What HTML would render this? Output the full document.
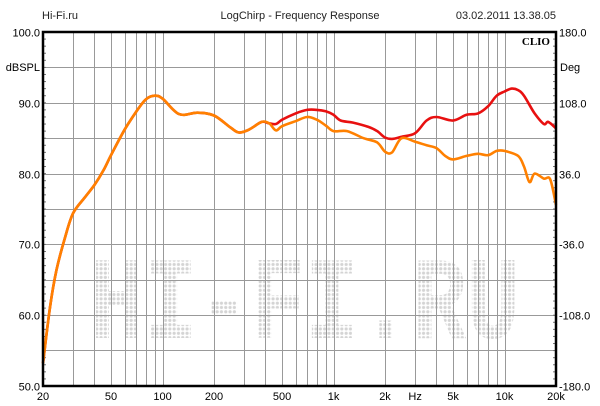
<!DOCTYPE html>
<html><head><meta charset="utf-8">
<style>
html,body{margin:0;padding:0;background:#fff;}
svg{display:block;font-family:"Liberation Sans",Arial,sans-serif;}
</style></head>
<body>
<svg id="chart" width="600" height="406" viewBox="0 0 600 406">
<defs>
<pattern id="dots" width="4.3" height="4.3" patternUnits="userSpaceOnUse">
<circle cx="2.15" cy="2.15" r="1.6" fill="#d4d4d4"/>
</pattern>
</defs>
<text x="42" y="19" font-size="11" fill="#222">Hi-Fi.ru</text>
<text x="300" y="19" font-size="11" fill="#222" text-anchor="middle">LogChirp - Frequency Response</text>
<text x="556" y="19" font-size="11" fill="#222" text-anchor="end">03.02.2011 13.38.05</text>
<text x="305" y="338" font-size="118" font-weight="bold" font-family="Liberation Mono,monospace" fill="url(#dots)" text-anchor="middle" textLength="430" lengthAdjust="spacingAndGlyphs">HI-FI.RU</text>
<g id="grid">
<line x1="43" x2="556" y1="67.5" y2="67.5" stroke="#999" stroke-width="1"/>
<line x1="43" x2="556" y1="138.5" y2="138.5" stroke="#999" stroke-width="1"/>
<line x1="43" x2="556" y1="209.5" y2="209.5" stroke="#999" stroke-width="1"/>
<line x1="43" x2="556" y1="280.5" y2="280.5" stroke="#999" stroke-width="1"/>
<line x1="43" x2="556" y1="350.5" y2="350.5" stroke="#999" stroke-width="1"/>
</g>
<g id="axes"></g>
<g id="series"></g>
<rect x="43" y="32" width="513" height="354" fill="none" stroke="#000" stroke-width="2.5"/>
<text x="550" y="45" font-size="11" font-weight="bold" font-family="Liberation Serif,serif" text-anchor="end">CLIO</text>
<text x="40" y="71" font-size="11" text-anchor="end">dBSPL</text>
<text x="560" y="71" font-size="11">Deg</text>
</svg>
<script>
const yTicks=[100,90,80,70,60,50];
const yTickLabels=["100.0","90.0","80.0","70.0","60.0","50.0"];
const y2TickLabels=["180.0","108.0","36.0","-36.0","-108.0","-180.0"];
const xTicks=[20,50,100,200,500,1000,2000,3000,5000,10000,20000];
const xTickLabels=["20","50","100","200","500","1k","2k","Hz","5k","10k","20k"];
const freqsShared=[20,22,24,27,30,35,40,45,50,60,70,80,90,100,125,160,200,250,280,320,380,420];
const dbShared=[53.2,61.2,66.4,71.1,74.4,76.6,78.4,80.4,82.6,86.2,88.7,90.5,91,90.6,88.4,88.6,88.2,86.5,85.8,86.2,87.3,87.1];
const freqsRed=[460,500,600,700,800,900,1000,1100,1300,1600,1800,2000,2200,2500,3000,3500,4000,5000,6000,7000,8000,9000,10000,11000,12000,13000,15000,17000,18000,20000];
const dbRed=[87,87.6,88.5,89,89,88.8,88.3,87.5,87.2,86.6,86,85.1,84.9,85.2,85.7,87.5,88,87.5,88.3,88.5,89.5,91,91.6,92,91.8,91,88.5,87,87.3,86.4];
const freqsOrange=[460,500,600,700,800,900,1000,1200,1500,1800,2000,2200,2500,3000,3500,4000,4500,5000,6000,7000,8000,9000,10000,12000,13000,14000,15000,17000,18500,20000];
const dbOrange=[86.1,86.7,87.4,88,87.6,86.8,86,86,85,84.4,83.1,83,85,84.5,84,83.6,82.5,82,82.5,82.8,82.6,83.2,83.2,82.5,81,78.8,80,79.3,79.2,75.6];

const L=43,R=556,T=32,B=386;
const xs=f=>L+(Math.log10(f/20)/3)*(R-L);
const ys=d=>T+(100-d)/50*(B-T);
const NS="http://www.w3.org/2000/svg";
function mk(tag,attrs,parent){const e=document.createElementNS(NS,tag);for(const k in attrs)e.setAttribute(k,attrs[k]);parent.appendChild(e);return e;}
const grid=document.getElementById('grid'),axes=document.getElementById('axes'),series=document.getElementById('series');
for(let dec=10;dec<=10000;dec*=10){for(let m=1;m<=10;m++){const f=dec*m;if(f<20||f>20000)continue;const x=Math.round(xs(f))+0.5;
const ln=mk('line',{x1:x,x2:x,y1:T,y2:B,stroke:'#999','stroke-width':1},grid);

}}
yTicks.forEach((v,i)=>{const y=Math.round(ys(v))+0.5;
const ln=mk('line',{x1:L,x2:R,y1:y,y2:y,stroke:'#999','stroke-width':1},grid);


const t=mk('text',{x:40,y:y+4,'font-size':11,'text-anchor':'end'},axes);t.textContent=yTickLabels[i];


const t2=mk('text',{x:559,y:y+4,'font-size':11},axes);t2.textContent=y2TickLabels[i];

});
for(let d=50;d<=100;d+=1){const y=ys(d);
const tk=mk('line',{x1:L,x2:L+3,y1:y,y2:y,stroke:'#777','stroke-width':1},axes);


const tk2=mk('line',{x1:R-3,x2:R,y1:y,y2:y,stroke:'#777','stroke-width':1},axes);

}
xTicks.forEach((f,i)=>{const t=mk('text',{x:xs(f),y:400,'font-size':11,'text-anchor':'middle'},axes);t.textContent=xTickLabels[i];

});
function line(fr,db,color,name){
const p=fr.map((f,i)=>[xs(f),ys(db[i])]);
let d='M'+p[0][0].toFixed(1)+','+p[0][1].toFixed(1);
for(let i=0;i<p.length-1;i++){const p0=p[Math.max(0,i-1)],p1=p[i],p2=p[i+1],p3=p[Math.min(p.length-1,i+2)];
const c1=[p1[0]+(p2[0]-p0[0])/6,p1[1]+(p2[1]-p0[1])/6],c2=[p2[0]-(p3[0]-p1[0])/6,p2[1]-(p3[1]-p1[1])/6];
d+=' C'+c1[0].toFixed(1)+','+c1[1].toFixed(1)+' '+c2[0].toFixed(1)+','+c2[1].toFixed(1)+' '+p2[0].toFixed(1)+','+p2[1].toFixed(1);}
const el=mk('path',{d:d,fill:'none',stroke:color,'stroke-width':2.6,'stroke-linejoin':'round'},series);

}
line(freqsShared.concat(freqsRed),dbShared.concat(dbRed),'#e81010','red-response-curve');
line(freqsShared.concat(freqsOrange),dbShared.concat(dbOrange),'#ff8000','orange-response-curve');
</script>
</body></html>
